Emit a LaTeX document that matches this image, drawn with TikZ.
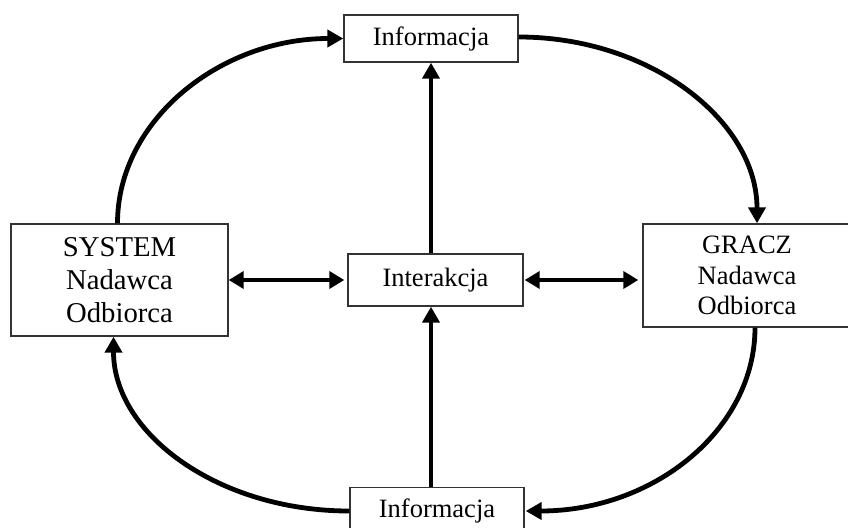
\documentclass[tikz,border=0pt]{standalone}
\usepackage{fontspec}
\setmainfont{Liberation Serif}
\usetikzlibrary{arrows.meta}
\begin{document}
\begin{tikzpicture}[x=1pt,y=-1pt,
  box/.style={draw=black!80, line width=1.4pt, inner sep=0pt, align=center,
    font=\fontsize{26.5}{30.5}\selectfont},
  conn/.style={line width=4.8pt, -{Triangle[length=16pt,width=17pt]}},
  both/.style={line width=4.8pt, {Triangle[length=15pt,width=17pt]}-{Triangle[length=15pt,width=17pt]}}]
\useasboundingbox (0,0) rectangle (848,527);
\node[box, minimum width=174pt, minimum height=47pt] (infotop) at (431,38.5) {Informacja};
\node[box, minimum width=217pt, minimum height=112pt,
  font=\fontsize{28.7}{33}\selectfont] (sys) at (119.5,280) {SYSTEM\\Nadawca\\Odbiorca};
\node[box, minimum width=175pt, minimum height=52pt] (inter) at (435.5,280) {Interakcja};
\node[box, minimum width=208pt, minimum height=103pt] (gracz) at (747,275.5) {GRACZ\\Nadawca\\Odbiorca};
\node[box, minimum width=174pt, minimum height=47pt] (infobot) at (437,511) {Informacja};
% vertical arrows
\draw[conn] (inter.north -| infotop.south) -- (infotop.south);
\draw[conn] (infobot.north -| infotop.south) -- (inter.south -| infotop.south);
% horizontal double arrows
\draw[both, shorten >=3pt] (sys.east) -- (inter.west);
\draw[both, shorten >=4pt, shorten <=1pt] (inter.east) -- (gracz.west |- inter.east);
% curved arrows
\draw[conn] ([xshift=-2pt]sys.north) .. controls +(0,-103) and +(-123,0) .. (infotop.west);
\draw[conn] ([yshift=1.5pt]infotop.east) .. controls +(132,0) and +(0,-102) .. ([xshift=10pt]gracz.north);
\draw[conn] ([xshift=8pt]gracz.south) .. controls +(0,102) and +(128,0) .. ([xshift=1pt]infobot.east);
\draw[conn] (infobot.west) .. controls +(-131,0) and +(0,97) .. ([xshift=-6pt]sys.south);
\end{tikzpicture}
\end{document}
